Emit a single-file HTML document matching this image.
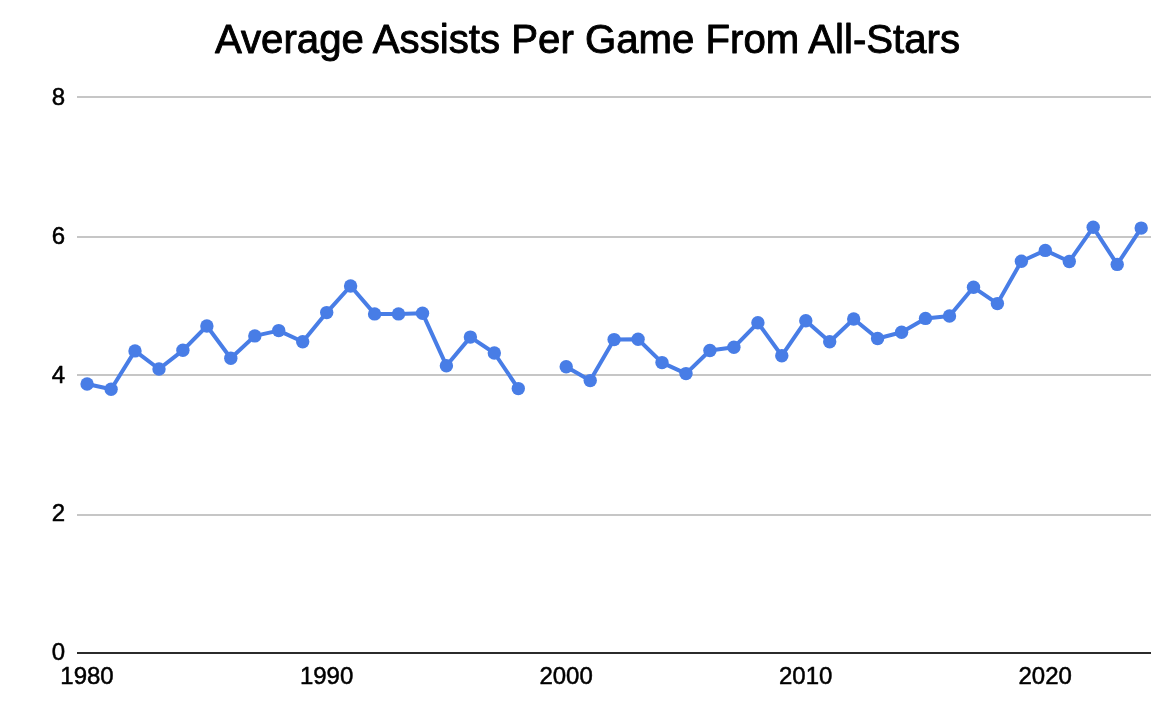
<!DOCTYPE html>
<html lang="en">
<head>
<meta charset="utf-8">
<title>Average Assists Per Game From All-Stars</title>
<style>
html,body{margin:0;padding:0;background:#ffffff;}
body{width:1172px;height:714px;overflow:hidden;font-family:"Liberation Sans",Arial,sans-serif;}
svg{display:block;}
.title{font-size:40.2px;fill:#000000;stroke:#000000;stroke-width:0.9px;stroke-linejoin:round;}
.axis text{font-size:24px;fill:#000000;stroke:#000000;stroke-width:0.5px;stroke-linejoin:round;}
.series polyline{fill:none;stroke:#487de6;stroke-width:4;stroke-linejoin:round;stroke-linecap:round;}
.series circle{fill:#487de6;}
</style>
</head>
<body>
<svg width="1172" height="714" viewBox="0 0 1172 714" font-family="Liberation Sans, Arial, sans-serif">
<rect x="0" y="0" width="1172" height="714" fill="#ffffff"/>
<text class="title" x="587.5" y="52.8" text-anchor="middle">Average Assists Per Game From All-Stars</text>
<g class="grid">
<rect x="77" y="96" width="1074" height="2" fill="#c6c6c6"/>
<rect x="77" y="236" width="1074" height="2" fill="#c6c6c6"/>
<rect x="77" y="374" width="1074" height="2" fill="#c6c6c6"/>
<rect x="77" y="514" width="1074" height="2" fill="#c6c6c6"/>
</g>
<rect x="77" y="652" width="1074" height="2" fill="#2b2b2b"/>
<g class="axis">
<text x="65" y="104.7" text-anchor="end">8</text>
<text x="65" y="243.9" text-anchor="end">6</text>
<text x="65" y="383.0" text-anchor="end">4</text>
<text x="65" y="520.9" text-anchor="end">2</text>
<text x="65" y="659.9" text-anchor="end">0</text>
<text x="87.0" y="684" text-anchor="middle">1980</text>
<text x="326.6" y="684" text-anchor="middle">1990</text>
<text x="566.1" y="684" text-anchor="middle">2000</text>
<text x="805.7" y="684" text-anchor="middle">2010</text>
<text x="1045.2" y="684" text-anchor="middle">2020</text>
</g>
<g class="series">
<polyline points="87.1,384.0 111.1,389.2 135.0,350.9 159.0,369.0 182.9,350.3 206.9,326.0 230.8,358.2 254.8,335.9 278.7,330.6 302.7,341.8 326.7,312.6 350.6,286.0 374.6,313.9 398.5,313.9 422.5,313.2 446.4,365.7 470.4,337.1 494.3,353.0 518.3,388.6"/>
<polyline points="566.2,366.7 590.2,380.6 614.1,339.6 638.1,339.2 662.0,362.6 686.0,373.6 709.9,350.5 733.9,347.3 757.9,322.8 781.8,355.7 805.8,320.7 829.7,341.7 853.7,319.0 877.6,338.5 901.6,332.3 925.5,318.4 949.5,316.0 973.5,287.3 997.4,303.6 1021.4,261.3 1045.3,250.4 1069.3,261.5 1093.2,227.3 1117.2,264.4 1141.2,228.1"/>
<circle cx="87.1" cy="384.0" r="6.7"/>
<circle cx="111.1" cy="389.2" r="6.7"/>
<circle cx="135.0" cy="350.9" r="6.7"/>
<circle cx="159.0" cy="369.0" r="6.7"/>
<circle cx="182.9" cy="350.3" r="6.7"/>
<circle cx="206.9" cy="326.0" r="6.7"/>
<circle cx="230.8" cy="358.2" r="6.7"/>
<circle cx="254.8" cy="335.9" r="6.7"/>
<circle cx="278.7" cy="330.6" r="6.7"/>
<circle cx="302.7" cy="341.8" r="6.7"/>
<circle cx="326.7" cy="312.6" r="6.7"/>
<circle cx="350.6" cy="286.0" r="6.7"/>
<circle cx="374.6" cy="313.9" r="6.7"/>
<circle cx="398.5" cy="313.9" r="6.7"/>
<circle cx="422.5" cy="313.2" r="6.7"/>
<circle cx="446.4" cy="365.7" r="6.7"/>
<circle cx="470.4" cy="337.1" r="6.7"/>
<circle cx="494.3" cy="353.0" r="6.7"/>
<circle cx="518.3" cy="388.6" r="6.7"/>
<circle cx="566.2" cy="366.7" r="6.7"/>
<circle cx="590.2" cy="380.6" r="6.7"/>
<circle cx="614.1" cy="339.6" r="6.7"/>
<circle cx="638.1" cy="339.2" r="6.7"/>
<circle cx="662.0" cy="362.6" r="6.7"/>
<circle cx="686.0" cy="373.6" r="6.7"/>
<circle cx="709.9" cy="350.5" r="6.7"/>
<circle cx="733.9" cy="347.3" r="6.7"/>
<circle cx="757.9" cy="322.8" r="6.7"/>
<circle cx="781.8" cy="355.7" r="6.7"/>
<circle cx="805.8" cy="320.7" r="6.7"/>
<circle cx="829.7" cy="341.7" r="6.7"/>
<circle cx="853.7" cy="319.0" r="6.7"/>
<circle cx="877.6" cy="338.5" r="6.7"/>
<circle cx="901.6" cy="332.3" r="6.7"/>
<circle cx="925.5" cy="318.4" r="6.7"/>
<circle cx="949.5" cy="316.0" r="6.7"/>
<circle cx="973.5" cy="287.3" r="6.7"/>
<circle cx="997.4" cy="303.6" r="6.7"/>
<circle cx="1021.4" cy="261.3" r="6.7"/>
<circle cx="1045.3" cy="250.4" r="6.7"/>
<circle cx="1069.3" cy="261.5" r="6.7"/>
<circle cx="1093.2" cy="227.3" r="6.7"/>
<circle cx="1117.2" cy="264.4" r="6.7"/>
<circle cx="1141.2" cy="228.1" r="6.7"/>
</g>
</svg>
</body>
</html>
